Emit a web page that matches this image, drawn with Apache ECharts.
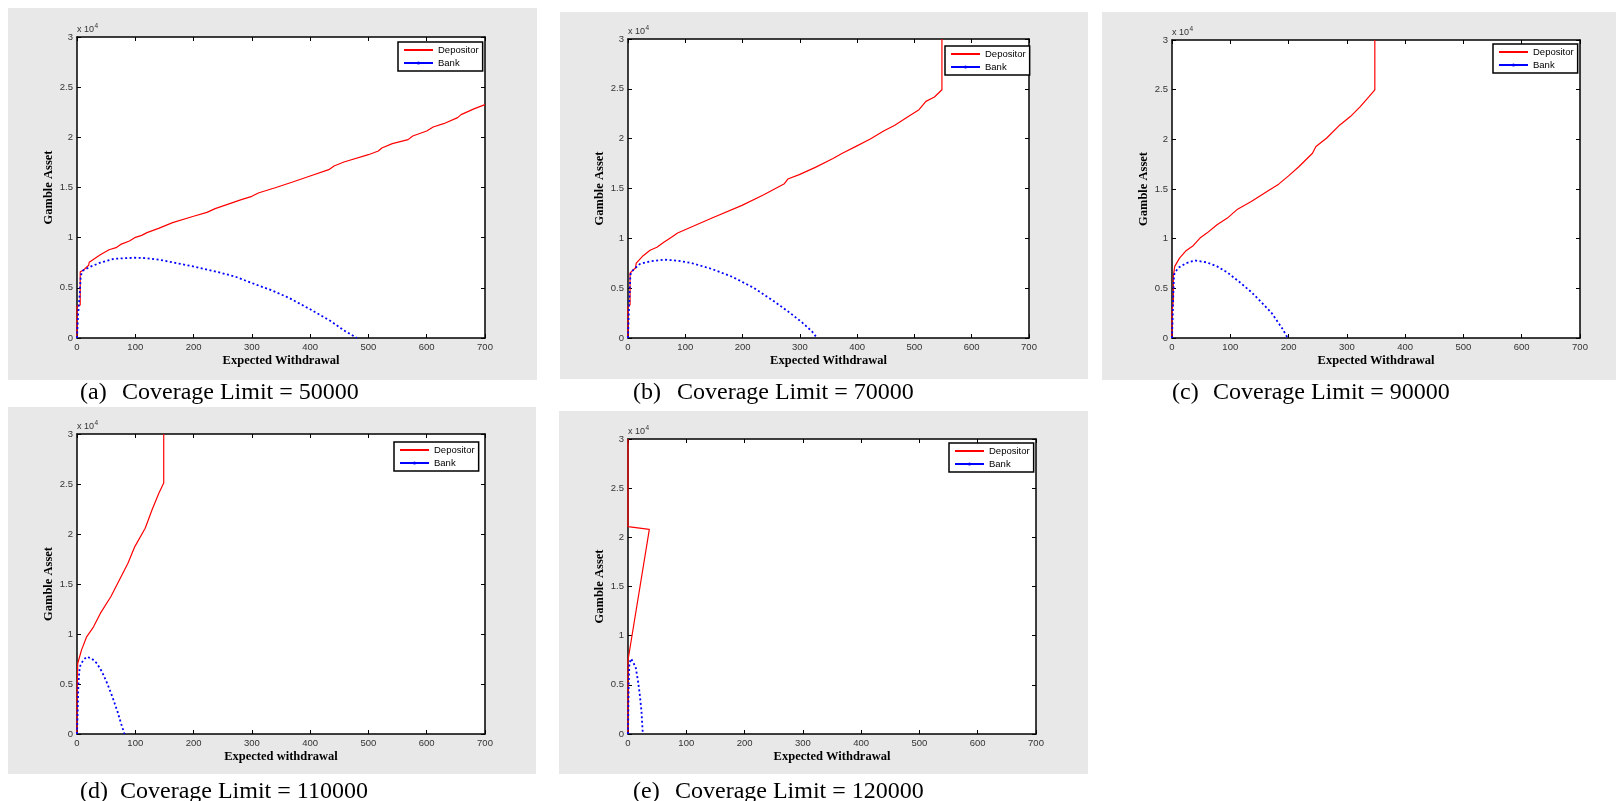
<!DOCTYPE html>
<html><head><meta charset="utf-8">
<script src="https://cdn.jsdelivr.net/npm/echarts@6/dist/echarts.min.js"></script>
<style>html,body{margin:0;padding:0;background:#fff}#c{width:1616px;height:801px}</style>
</head><body><div id="c"></div>
<script>
// ---------- data ----------
const xTickValues = [0, 100, 200, 300, 400, 500, 600, 700];
const yTickLabels = ['0', '0.5', '1', '1.5', '2', '2.5', '3'];
const panelLetters = ['(a)', '(b)', '(c)', '(d)', '(e)'];
const coverageLimits = [50000, 70000, 90000, 110000, 120000];
const xAxisTitles = ['Expected Withdrawal', 'Expected Withdrawal', 'Expected Withdrawal', 'Expected withdrawal', 'Expected Withdrawal'];
const yAxisTitle = 'Gamble Asset';
const seriesNames = ['Depositor', 'Bank'];

const depositorA = [[0,0],[0,3150],[5.5,3300],[5.5,6600],[10.6,6740],[20,7250],[21,7550],[40,8300],[55,8800],[67,9000],[75,9330],[90,9670],[99,10000],[111,10230],[120,10500],[140,10930],[164,11500],[200,12130],[223,12520],[237,12890],[282,13790],[300,14120],[311,14450],[340,14980],[370,15550],[400,16150],[432,16780],[441,17140],[458,17540],[500,18270],[517,18640],[523,18940],[541,19370],[568,19770],[576,20130],[600,20630],[611,21030],[629,21360],[653,21960],[659,22260],[682,22860],[700,23260]];
const bankA = [[0,0],[1.8,2260],[4.7,4420],[6.5,6250],[10.6,6740],[22,7080],[40,7510],[64,7900],[99,8000],[117,7970],[140,7810],[164,7540],[199,7140],[234,6680],[270,6150],[300,5480],[334,4750],[364,3990],[400,2860],[435,1690],[458,760],[480,0]];

const depositorB = [[0,0],[0,3180],[3.6,3340],[3.6,6520],[8.4,6790],[13,7020],[14.4,7520],[26.5,8260],[38.5,8800],[50.5,9100],[62.5,9600],[74.6,10070],[86.6,10530],[110.6,11140],[146.7,12040],[199,13310],[237,14380],[273,15480],[279,15950],[299,16390],[327,17120],[357,17990],[375,18560],[398,19230],[423,19960],[447,20800],[465,21330],[490,22240],[508,22910],[520,23740],[535,24180],[548,24910],[548,30000]];
const bankB = [[0,0],[1.2,2240],[2.4,3850],[4.2,6350],[8.4,6790],[20.4,7420],[38.5,7690],[62.5,7860],[86.6,7760],[110.6,7520],[146.7,6920],[182.8,6120],[218.9,5050],[255,3680],[279,2680],[303,1610],[321,670],[330,0]];

const depositorC = [[0,0],[0,2510],[2.3,3850],[2.3,6200],[4.7,7210],[12.9,8040],[24.6,8820],[36.3,9290],[48,10060],[59.8,10560],[77.3,11400],[95,12070],[112.5,12970],[136,13740],[165,14820],[183,15490],[200,16320],[218,17260],[241,18600],[247,19270],[265,20110],[288,21450],[306,22290],[323,23300],[338,24300],[348,24970],[348,30000]];
const bankC = [[0,0],[1.2,2180],[2.3,4530],[3.5,6370],[10,7040],[24.6,7540],[39.3,7810],[59.8,7610],[77.3,7210],[95,6600],[118,5530],[136,4630],[153.5,3590],[171,2510],[188.6,1010],[198.6,0]];

const depositorD = [[0,0],[0,3370],[1.2,7050],[7.7,8390],[16.5,9720],[28.4,10720],[40,12060],[58,13730],[72.7,15400],[87.4,17070],[99.2,18740],[117,20580],[128.8,22420],[140.6,24090],[148.8,25090],[148.8,30000]];
const bankD = [[0,0],[1.2,2370],[2.4,5040],[4.7,6720],[10.6,7380],[16.5,7720],[25.4,7550],[34.3,7050],[43,6210],[52,5040],[60.8,3710],[69.7,2210],[75.6,1040],[81.5,0]];

const depositorE = [[0,0],[0,7500],[36.6,20810],[0,21080],[0,30000]];
const bankE = [[0,0],[0.6,2580],[1.2,5120],[2.4,7160],[5.3,7670],[8.3,7570],[13,6820],[17,5460],[20,4110],[23,2410],[25.4,0]];

const depositorData = [depositorA, depositorB, depositorC, depositorD, depositorE];
const bankData = [bankA, bankB, bankC, bankD, bankE];

// ---------- layout (positions / sizes only) ----------
const layout = [
  {grid:[77,37,408,301],  bg:[8,8,529,372],    legend:[398,42],  cap:[80,122,392.5]},
  {grid:[628,39,401,299], bg:[560,12,528,367], legend:[945,46],  cap:[633,677,392.5]},
  {grid:[1172,40,408,298],bg:[1102,12,514,368],legend:[1493,44], cap:[1172,1213,392.5]},
  {grid:[77,434,408,300], bg:[8,407,528,367],  legend:[394,442], cap:[80,120,792]},
  {grid:[628,439,408,295],bg:[559,411,529,363],legend:[949,443], cap:[633,675,792]}
];

const RED = '#ff0000', BLUE = '#0000ff';
const sans = 'Liberation Sans', serif = 'Liberation Serif';

const grid = [], xAxis = [], yAxis = [], series = [], legend = [], graphic = [];

layout.forEach((L, i) => {
  const [gl, gt, gw, gh] = L.grid;
  graphic.push({type:'rect', z:-10, shape:{x:L.bg[0], y:L.bg[1], width:L.bg[2], height:L.bg[3]}, style:{fill:'#e8e8e8'}, silent:true});
  grid.push({left:gl, top:gt, width:gw, height:gh, show:true, backgroundColor:'#fff', borderWidth:0, outerBoundsMode:'none', containLabel:false});
  const axisLine = {show:true, onZero:false, lineStyle:{color:'#000', width:1.5}};
  const axisTick = {show:true, inside:true, length:4, lineStyle:{color:'#000', width:1}};
  xAxis.push({
    gridIndex:i, type:'value', min:xTickValues[0], max:xTickValues[xTickValues.length-1], interval:100, position:'bottom',
    axisLine, axisTick, splitLine:{show:false},
    axisLabel:{show:true, margin:4, showMinLabel:true, showMaxLabel:true, fontFamily:sans, fontSize:9.5, color:'#333'},
    name:xAxisTitles[i], nameLocation:'middle', nameGap:16,
    nameTextStyle:{fontFamily:serif, fontWeight:'bold', fontSize:12.5, color:'#000'}
  });
  xAxis.push({
    gridIndex:i, type:'value', min:0, max:700, interval:100, position:'top',
    axisLine, axisTick, splitLine:{show:false}, axisLabel:{show:false}
  });
  yAxis.push({
    gridIndex:i, type:'value', min:0, max:30000, interval:5000, position:'left',
    axisLine, axisTick, splitLine:{show:false},
    axisLabel:{show:true, margin:4, showMinLabel:true, showMaxLabel:true, fontFamily:sans, fontSize:9.5, color:'#333',
      formatter:(v) => yTickLabels[Math.round(v/5000)]},
    name:yAxisTitle, nameLocation:'middle', nameGap:22, nameRotate:90,
    nameTextStyle:{fontFamily:serif, fontWeight:'bold', fontSize:12.5, color:'#000'}
  });
  yAxis.push({
    gridIndex:i, type:'value', min:0, max:30000, interval:5000, position:'right',
    axisLine, axisTick, splitLine:{show:false}, axisLabel:{show:false}
  });
  series.push({
    type:'line', name:seriesNames[0], xAxisIndex:2*i, yAxisIndex:2*i, data:depositorData[i],
    symbol:'none', showSymbol:false, clip:true, animation:false, z:2,
    lineStyle:{color:RED, width:1.2}, itemStyle:{color:RED}
  });
  series.push({
    type:'line', name:seriesNames[1], xAxisIndex:2*i, yAxisIndex:2*i, data:bankData[i],
    symbol:'circle', symbolSize:3, showSymbol:false, clip:true, animation:false, z:3,
    lineStyle:{color:BLUE, width:1.8, type:[2,2.5]}, itemStyle:{color:BLUE}
  });
  legend.push({
    left:L.legend[0], top:L.legend[1], orient:'vertical',
    data:[{name:seriesNames[0], itemStyle:{opacity:0}}, {name:seriesNames[1]}],
    itemWidth:29, itemHeight:4, itemGap:3, padding:[3,4,3,5],
    backgroundColor:'#fff', borderColor:'#000', borderWidth:1.5, borderRadius:0,
    textStyle:{fontFamily:sans, fontSize:9.5, color:'#000'},
    lineStyle:{type:'solid'}, selectedMode:false
  });
  // exponent label
  graphic.push({type:'text', x:gl, y:gt-7.5, silent:true, style:{text:'x 10', font:'9px "Liberation Sans"', fill:'#333', verticalAlign:'middle', align:'left'}});
  graphic.push({type:'text', x:gl+17.5, y:gt-10.5, silent:true, style:{text:'4', font:'6.5px "Liberation Sans"', fill:'#333', verticalAlign:'middle', align:'left'}});
  // caption
  graphic.push({type:'text', x:L.cap[0], y:L.cap[2], silent:true, style:{text:panelLetters[i], font:'24px "Liberation Serif"', fill:'#000', verticalAlign:'middle', align:'left'}});
  graphic.push({type:'text', x:L.cap[1], y:L.cap[2], silent:true, style:{text:'Coverage Limit = ' + coverageLimits[i], font:'24px "Liberation Serif"', fill:'#000', verticalAlign:'middle', align:'left'}});
});

const chart = echarts.init(document.getElementById('c'), null, {renderer:'canvas'});
chart.setOption({animation:false, backgroundColor:'#fff', grid, xAxis, yAxis, series, legend, graphic});
</script></body></html>
